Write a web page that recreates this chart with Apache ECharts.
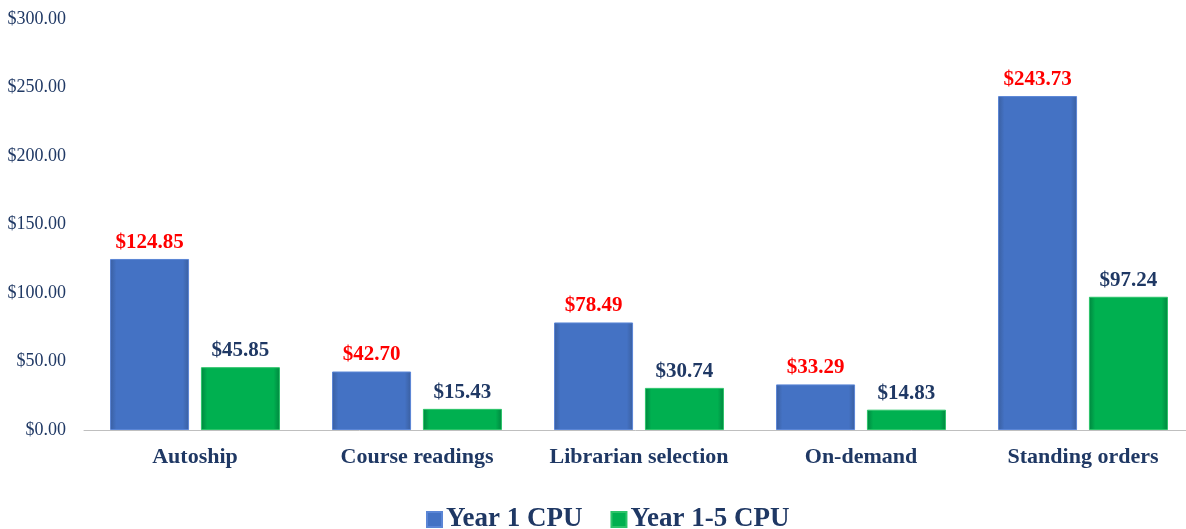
<!DOCTYPE html>
<html><head><meta charset="utf-8">
<script src="https://cdn.jsdelivr.net/npm/echarts@6/dist/echarts.min.js"></script>
<style>html,body{margin:0;padding:0;background:#fff}#c{width:1186px;height:529px}</style>
</head><body><div id="c"></div>
<script>
const categories = ['Autoship','Course readings','Librarian selection','On-demand','Standing orders'];
const year1 = [124.85, 42.70, 78.49, 33.29, 243.73];
const year15 = [45.85, 15.43, 30.74, 14.83, 97.24];
const seriesNames = ['Year 1 CPU','Year 1-5 CPU'];
const font = '"Liberation Serif", "DejaVu Serif", serif';
const navy = '#1F3864';
const chart = echarts.init(document.getElementById('c'));
function grad(c1,c2){return new echarts.graphic.LinearGradient(0,0,1,0,[{offset:0,color:c1},{offset:0.08,color:c2},{offset:0.92,color:c2},{offset:1,color:c1}]);}
chart.setOption({
  animation:false,
  grid:{left:84, top:19, bottom:99, width:1110, outerBoundsMode:'none'},
  legend:{top:501, left:421, icon:'rect', itemWidth:15, itemHeight:15, itemGap:28,
    textStyle:{fontFamily:font, fontSize:27, fontWeight:'bold', color:navy, padding:[0,0,0,-1]},
    data:seriesNames},
  xAxis:{type:'category', data:categories,
    axisLine:{lineStyle:{color:'#BFBFBF'}}, axisTick:{show:false},
    axisLabel:{interval:0, fontFamily:font, fontSize:22, fontWeight:'bold', color:navy, margin:16}},
  yAxis:{type:'value', min:0, max:300, interval:50,
    splitLine:{show:false}, axisLine:{show:false}, axisTick:{show:false},
    axisLabel:{fontFamily:font, fontSize:18, color:navy, margin:18, formatter:v=>'$'+v.toFixed(2)}},
  series:[
    {name:seriesNames[0], type:'bar', data:year1, barWidth:'35.6%', barGap:'15%',
     itemStyle:{color:grad('#3A5FA0','#4472C4'), borderColor:'#5B86D6', borderWidth:1},
     label:{show:true, position:'top', distance:6, fontFamily:font, fontSize:21, fontWeight:'bold', color:'#FF0000', formatter:p=>'$'+p.value.toFixed(2)}},
    {name:seriesNames[1], type:'bar', data:year15, barWidth:'35.6%',
     itemStyle:{color:grad('#00863F','#00B050'), borderColor:'#2CC46A', borderWidth:1},
     label:{show:true, position:'top', distance:6, fontFamily:font, fontSize:21, fontWeight:'bold', color:navy, formatter:p=>'$'+p.value.toFixed(2)}}
  ]
});
</script></body></html>
